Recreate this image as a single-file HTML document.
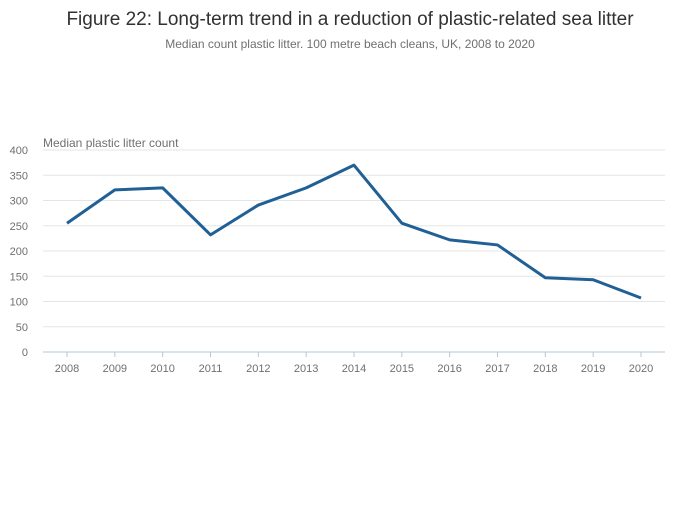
<!DOCTYPE html>
<html><head><meta charset="utf-8"><style>
body{margin:0;background:#fff;font-family:"Liberation Sans",sans-serif}
</style></head><body>
<svg width="700" height="502" xmlns="http://www.w3.org/2000/svg">
<text x="350" y="25" text-anchor="middle" font-size="19" fill="#323132">Figure 22: Long-term trend in a reduction of plastic-related sea litter</text>
<text x="350" y="48" text-anchor="middle" font-size="12" fill="#707071">Median count plastic litter. 100 metre beach cleans, UK, 2008 to 2020</text>
<text x="43" y="147" font-size="12" fill="#707071">Median plastic litter count</text>
<g id="grid"></g><g id="xt"></g>
<path id="line" fill="none" stroke="#206095" stroke-width="3" stroke-linejoin="round"/>
</svg>
<script>
const years=["2008","2009","2010","2011","2012","2013","2014","2015","2016","2017","2018","2019","2020"];
const counts=[255,321,325,232,291,325,370,255,222,212,147,143,107];
const yTicks=[0,50,100,150,200,250,300,350,400];
const NS="http://www.w3.org/2000/svg";
const y=v=>352-v*(202/400);
const x=i=>67+i*(574/12);
const grid=document.getElementById('grid'),xt=document.getElementById('xt');
yTicks.forEach(t=>{
 const l=document.createElementNS(NS,'line');
 
 
 l.setAttribute('x1',43);l.setAttribute('x2',665);l.setAttribute('y1',y(t));l.setAttribute('y2',y(t));
 l.setAttribute('stroke',t===0?'#b3c7da':'#e5e5e5');l.setAttribute('stroke-width',1);
 grid.appendChild(l);
 const tx=document.createElementNS(NS,'text');
 
 
 tx.setAttribute('x',28);tx.setAttribute('y',y(t)+4);tx.setAttribute('text-anchor','end');
 tx.setAttribute('font-size',11);tx.setAttribute('fill','#707071');tx.textContent=t;
 grid.appendChild(tx);
});
years.forEach((yr,i)=>{
 const tk=document.createElementNS(NS,'line');
 
 
 tk.setAttribute('x1',x(i));tk.setAttribute('x2',x(i));tk.setAttribute('y1',352);tk.setAttribute('y2',357);
 tk.setAttribute('stroke','#b3c7da');xt.appendChild(tk);
 const tx=document.createElementNS(NS,'text');
 
 
 tx.setAttribute('x',x(i));tx.setAttribute('y',372);tx.setAttribute('text-anchor','middle');
 tx.setAttribute('font-size',11);tx.setAttribute('fill','#707071');tx.textContent=yr;
 xt.appendChild(tx);
});
document.getElementById('line').setAttribute('d',counts.map((v,i)=>(i?'L':'M')+x(i)+','+y(v)).join(''));
</script>
</body></html>
